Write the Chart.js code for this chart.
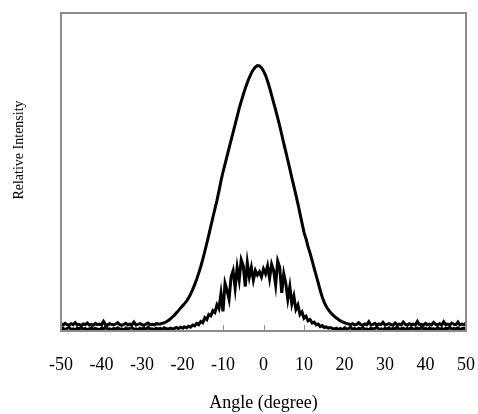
<!DOCTYPE html>
<html>
<head>
<meta charset="utf-8">
<script src="https://cdn.jsdelivr.net/npm/chart.js@4.4.1/dist/chart.umd.min.js"></script>
<style>
    html, body { margin: 0; padding: 0; background: #ffffff; }
    #wrap { width: 478px; height: 414px; }
</style>
</head>
<body>
<div id="wrap"><canvas id="profileChart"></canvas></div>
<script>
// Angoli (gradi), passo 0.5
const angles = [
    -50, -49.5, -49, -48.5, -48, -47.5, -47, -46.5, -46, -45.5,
    -45, -44.5, -44, -43.5, -43, -42.5, -42, -41.5, -41, -40.5,
    -40, -39.5, -39, -38.5, -38, -37.5, -37, -36.5, -36, -35.5,
    -35, -34.5, -34, -33.5, -33, -32.5, -32, -31.5, -31, -30.5,
    -30, -29.5, -29, -28.5, -28, -27.5, -27, -26.5, -26, -25.5,
    -25, -24.5, -24, -23.5, -23, -22.5, -22, -21.5, -21, -20.5,
    -20, -19.5, -19, -18.5, -18, -17.5, -17, -16.5, -16, -15.5,
    -15, -14.5, -14, -13.5, -13, -12.5, -12, -11.5, -11, -10.5,
    -10, -9.5, -9, -8.5, -8, -7.5, -7, -6.5, -6, -5.5,
    -5, -4.5, -4, -3.5, -3, -2.5, -2, -1.5, -1, -0.5,
    0, 0.5, 1, 1.5, 2, 2.5, 3, 3.5, 4, 4.5,
    5, 5.5, 6, 6.5, 7, 7.5, 8, 8.5, 9, 9.5,
    10, 10.5, 11, 11.5, 12, 12.5, 13, 13.5, 14, 14.5,
    15, 15.5, 16, 16.5, 17, 17.5, 18, 18.5, 19, 19.5,
    20, 20.5, 21, 21.5, 22, 22.5, 23, 23.5, 24, 24.5,
    25, 25.5, 26, 26.5, 27, 27.5, 28, 28.5, 29, 29.5,
    30, 30.5, 31, 31.5, 32, 32.5, 33, 33.5, 34, 34.5,
    35, 35.5, 36, 36.5, 37, 37.5, 38, 38.5, 39, 39.5,
    40, 40.5, 41, 41.5, 42, 42.5, 43, 43.5, 44, 44.5,
    45, 45.5, 46, 46.5, 47, 47.5, 48, 48.5, 49, 49.5,
    50
];

// Curva larga (liscia)
const wideProfile = [
    0.021, 0.019, 0.024, 0.02, 0.018, 0.023, 0.02, 0.026, 0.019, 0.021,
    0.017, 0.022, 0.02, 0.025, 0.019, 0.021, 0.018, 0.024, 0.02, 0.022,
    0.019, 0.03, 0.02, 0.018, 0.023, 0.021, 0.019, 0.022, 0.026, 0.02,
    0.018, 0.021, 0.024, 0.019, 0.022, 0.02, 0.028, 0.019, 0.021, 0.023,
    0.02, 0.018, 0.022, 0.025, 0.02, 0.021, 0.019, 0.023,
    // -26 .. 21
    0.022, 0.022, 0.024, 0.026, 0.029, 0.033, 0.038, 0.044, 0.05, 0.057,
    0.064, 0.072, 0.079, 0.086, 0.094, 0.104, 0.116, 0.13, 0.146, 0.163,
    0.182, 0.202, 0.225, 0.25, 0.276, 0.302, 0.33, 0.357, 0.384, 0.41,
    0.44, 0.472, 0.5, 0.525, 0.55, 0.575, 0.6, 0.625, 0.65, 0.675,
    0.7, 0.722, 0.743, 0.763, 0.781, 0.797, 0.811, 0.822, 0.83, 0.835,
    0.834, 0.828, 0.818, 0.804, 0.786, 0.765, 0.742, 0.718, 0.695, 0.67,
    0.645, 0.618, 0.59, 0.564, 0.537, 0.51, 0.482, 0.455, 0.428, 0.4,
    0.37, 0.34, 0.31, 0.29, 0.265, 0.245, 0.222, 0.198, 0.175, 0.152,
    0.128, 0.107, 0.09, 0.077, 0.067, 0.059, 0.052, 0.046, 0.041, 0.036,
    0.032, 0.029, 0.026, 0.024, 0.022,
    // 21.5 .. 50
    0.02, 0.023, 0.019, 0.021, 0.026, 0.02, 0.018, 0.022, 0.02, 0.029,
    0.019, 0.021, 0.024, 0.018, 0.022, 0.02, 0.027, 0.019, 0.021, 0.023,
    0.02, 0.018, 0.025, 0.02, 0.022, 0.019, 0.028, 0.021, 0.018, 0.023,
    0.02, 0.022, 0.019, 0.03, 0.02, 0.021, 0.018, 0.024, 0.02, 0.022,
    0.019, 0.027, 0.021, 0.02, 0.023, 0.018, 0.029, 0.02, 0.022, 0.019,
    0.025, 0.021, 0.02, 0.028, 0.019, 0.022, 0.02, 0.024
];

// Curva stretta (rumorosa)
const noisyProfile = [
    0.006, 0.009, 0.004, 0.008, 0.011, 0.005, 0.007, 0.003, 0.009, 0.006,
    0.012, 0.005, 0.008, 0.004, 0.007, 0.01, 0.005, 0.008, 0.006, 0.004,
    0.009, 0.006, 0.013, 0.005, 0.007, 0.004, 0.008, 0.006, 0.01, 0.005,
    0.007, 0.003, 0.009, 0.006, 0.008, 0.011, 0.005, 0.007, 0.004, 0.009,
    0.006, 0.008, 0.005, 0.012, 0.006, 0.007, 0.004, 0.009, 0.006, 0.008,
    0.005, 0.01, 0.007, 0.006, 0.009, 0.007,
    // -22 .. -12.5
    0.008, 0.011, 0.007, 0.012, 0.009, 0.013, 0.01, 0.015, 0.012, 0.019,
    0.016, 0.024, 0.02, 0.03, 0.026, 0.042, 0.036, 0.052, 0.048, 0.064,
    // -12 .. 8
    0.058, 0.082, 0.07, 0.118, 0.062, 0.15, 0.128, 0.1, 0.17, 0.19,
    0.135, 0.2, 0.16, 0.224, 0.205, 0.14, 0.215, 0.17, 0.2, 0.16,
    0.19, 0.176, 0.186, 0.17, 0.195, 0.18, 0.205, 0.165, 0.21, 0.19,
    0.145, 0.22, 0.2, 0.12, 0.18, 0.15, 0.1, 0.14, 0.085, 0.11,
    0.068,
    // 8.5 .. 17
    0.082, 0.052, 0.06, 0.04, 0.046, 0.032, 0.036, 0.025, 0.028, 0.019,
    0.022, 0.014, 0.017, 0.011, 0.013, 0.009, 0.011, 0.008,
    // 17.5 .. 50
    0.006, 0.009, 0.005, 0.008, 0.004, 0.01, 0.006, 0.007, 0.012, 0.005,
    0.008, 0.004, 0.009, 0.006, 0.011, 0.005, 0.007, 0.003, 0.009, 0.006,
    0.008, 0.012, 0.005, 0.007, 0.004, 0.009, 0.006, 0.01, 0.005, 0.008,
    0.006, 0.013, 0.004, 0.007, 0.009, 0.005, 0.008, 0.006, 0.011, 0.004,
    0.007, 0.009, 0.005, 0.012, 0.006, 0.008, 0.004, 0.01, 0.006, 0.007,
    0.005, 0.011, 0.006, 0.008, 0.004, 0.009, 0.007, 0.012, 0.005, 0.008,
    0.006, 0.01, 0.005, 0.007, 0.009, 0.006
];

// Tick dell'asse x
const xTicks = [-50, -40, -30, -20, -10, 0, 10, 20, 30, 40, 50];

const xTitle = 'Angle (degree)';
const yTitle = 'Relative Intensity';

function toPoints(xs, ys) {
    return xs.map((x, i) => ({ x: x, y: ys[i] }));
}

// Tacche interne, cornice grigia e titolo asse y
const framePlugin = {
    id: 'frame',
    beforeDatasetsDraw(chart) {
        const ctx = chart.ctx;
        const a = chart.chartArea;
        const xs = chart.scales.x;
        ctx.save();
        ctx.strokeStyle = '#8c8c8c';
        ctx.lineWidth = 1;
        xTicks.forEach(v => {
            const px = Math.round(xs.getPixelForValue(v)) + 0.5;
            ctx.beginPath();
            ctx.moveTo(px, a.bottom);
            ctx.lineTo(px, a.bottom - 6);
            ctx.stroke();
        });
        ctx.restore();
    },
    afterDatasetsDraw(chart) {
        const ctx = chart.ctx;
        const a = chart.chartArea;
        ctx.save();
        ctx.strokeStyle = '#8c8c8c';
        ctx.lineWidth = 2;
        ctx.strokeRect(a.left, a.top, a.right - a.left, a.bottom - a.top);
        ctx.restore();
    },
    afterDraw(chart) {
        const ctx = chart.ctx;
        ctx.save();
        ctx.translate(19, 150);
        ctx.rotate(-Math.PI / 2);
        ctx.font = '14px "Liberation Serif"';
        ctx.fillStyle = '#000';
        ctx.textAlign = 'center';
        ctx.textBaseline = 'middle';
        ctx.fillText(yTitle, 0, 0);
        ctx.restore();
    }
};

document.addEventListener('DOMContentLoaded', function () {
    const ctx = document.getElementById('profileChart').getContext('2d');
    new Chart(ctx, {
        type: 'line',
        data: {
            datasets: [{
                label: 'wide',
                data: toPoints(angles, wideProfile),
                borderColor: '#000',
                borderWidth: 3,
                pointRadius: 0,
                tension: 0
            }, {
                label: 'noisy',
                data: toPoints(angles, noisyProfile),
                borderColor: '#000',
                borderWidth: 3,
                pointRadius: 0,
                tension: 0
            }]
        },
        options: {
            responsive: true,
            maintainAspectRatio: false,
            animation: false,
            layout: {
                padding: { left: 61, right: 12, top: 13, bottom: 0 }
            },
            plugins: {
                legend: { display: false },
                tooltip: { enabled: false }
            },
            scales: {
                x: {
                    type: 'linear',
                    min: -50,
                    max: 50,
                    afterBuildTicks: function (scale) {
                        scale.ticks = xTicks.map(v => ({ value: v }));
                    },
                    afterFit: function (scale) {
                        scale.height = 83;
                    },
                    grid: {
                        drawOnChartArea: false,
                        drawTicks: true,
                        tickLength: 23,
                        tickColor: 'rgba(0,0,0,0)'
                    },
                    border: { display: false },
                    ticks: {
                        color: '#000',
                        font: { family: '"Liberation Serif"', size: 18 },
                        padding: 0,
                        maxRotation: 0,
                        autoSkip: false
                    },
                    title: {
                        display: true,
                        text: xTitle,
                        color: '#000',
                        font: { family: '"Liberation Serif"', size: 18 },
                        padding: { top: 0, bottom: 0 }
                    }
                },
                y: {
                    display: false,
                    min: 0,
                    max: 1
                }
            }
        },
        plugins: [framePlugin]
    });
});
</script>
</body>
</html>
